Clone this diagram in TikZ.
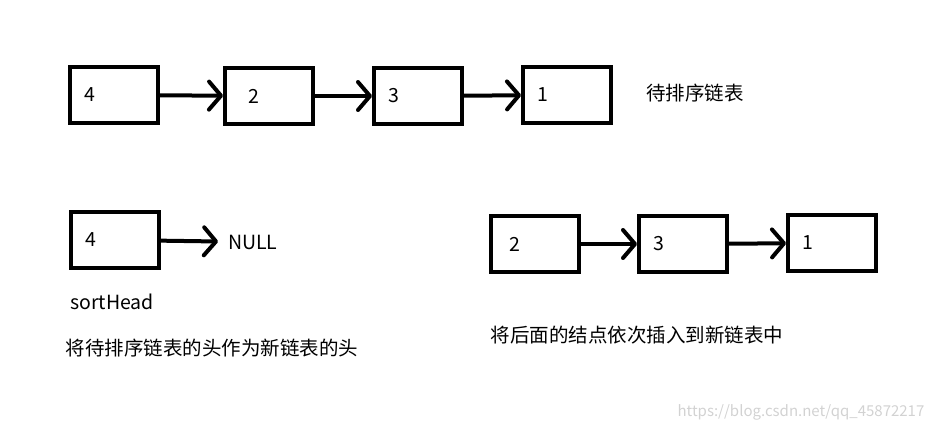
\documentclass[tikz,border=0pt]{standalone}
\usepackage{fontspec}
\setmainfont{Noto Sans CJK SC}
\usetikzlibrary{arrows.meta}
\tikzset{
  box/.style={draw,line width=4pt,minimum width=88pt,minimum height=56pt,
    text width=60pt,inner xsep=14pt,align=left},
  link/.style={line width=4pt,line cap=round,-{Straight Barb[length=12pt,width=28pt,round]}},
}

\begin{document}
\begin{tikzpicture}[x=1pt,y=-1pt,font=\fontsize{19.5}{23}\selectfont]
    \path[use as bounding box] (0,0) rectangle (933,430);
    % list to sort
    \node[box] (a4) at (114,95) {4};
    \node[box] (a2) at (269,96) {\hspace{9pt}2};
    \node[box] (a3) at (418,96) {3};
    \node[box] (a1) at (567,95) {1};
    \node (todo) at (695,93) {待排序链表};
    \draw[link] (a4) -- (a2);
    \draw[link] (a2) -- (a3);
    \draw[link] (a3) -- (a1);
    % new head
    \node[box] (h4) at (115,240) {4};
    \node[anchor=west,inner xsep=10pt] (null) at (218,242) {NULL};
    \draw[link] (h4) -- (null);
    \node (sorthead) at (112,302) {sortHead};
    \node (cap1) at (212,348) {将待排序链表的头作为新链表的头};
    % remaining nodes
    \node[box] (b2) at (535,244) {\hspace{4pt}2};
    \node[box] (b3) at (683,244) {3};
    \node[box] (b1) at (832,243) {1};
    \draw[link] (b2) -- (b3);
    \draw[link] (b3) -- (b1);
    \node (cap2) at (637,335) {将后面的结点依次插入到新链表中};
    \node[text=gray!35,font=\fontsize{15}{18}\selectfont] (mark) at (801,412) {https://blog.csdn.net/qq\_45872217};
  \end{tikzpicture}
\end{document}
